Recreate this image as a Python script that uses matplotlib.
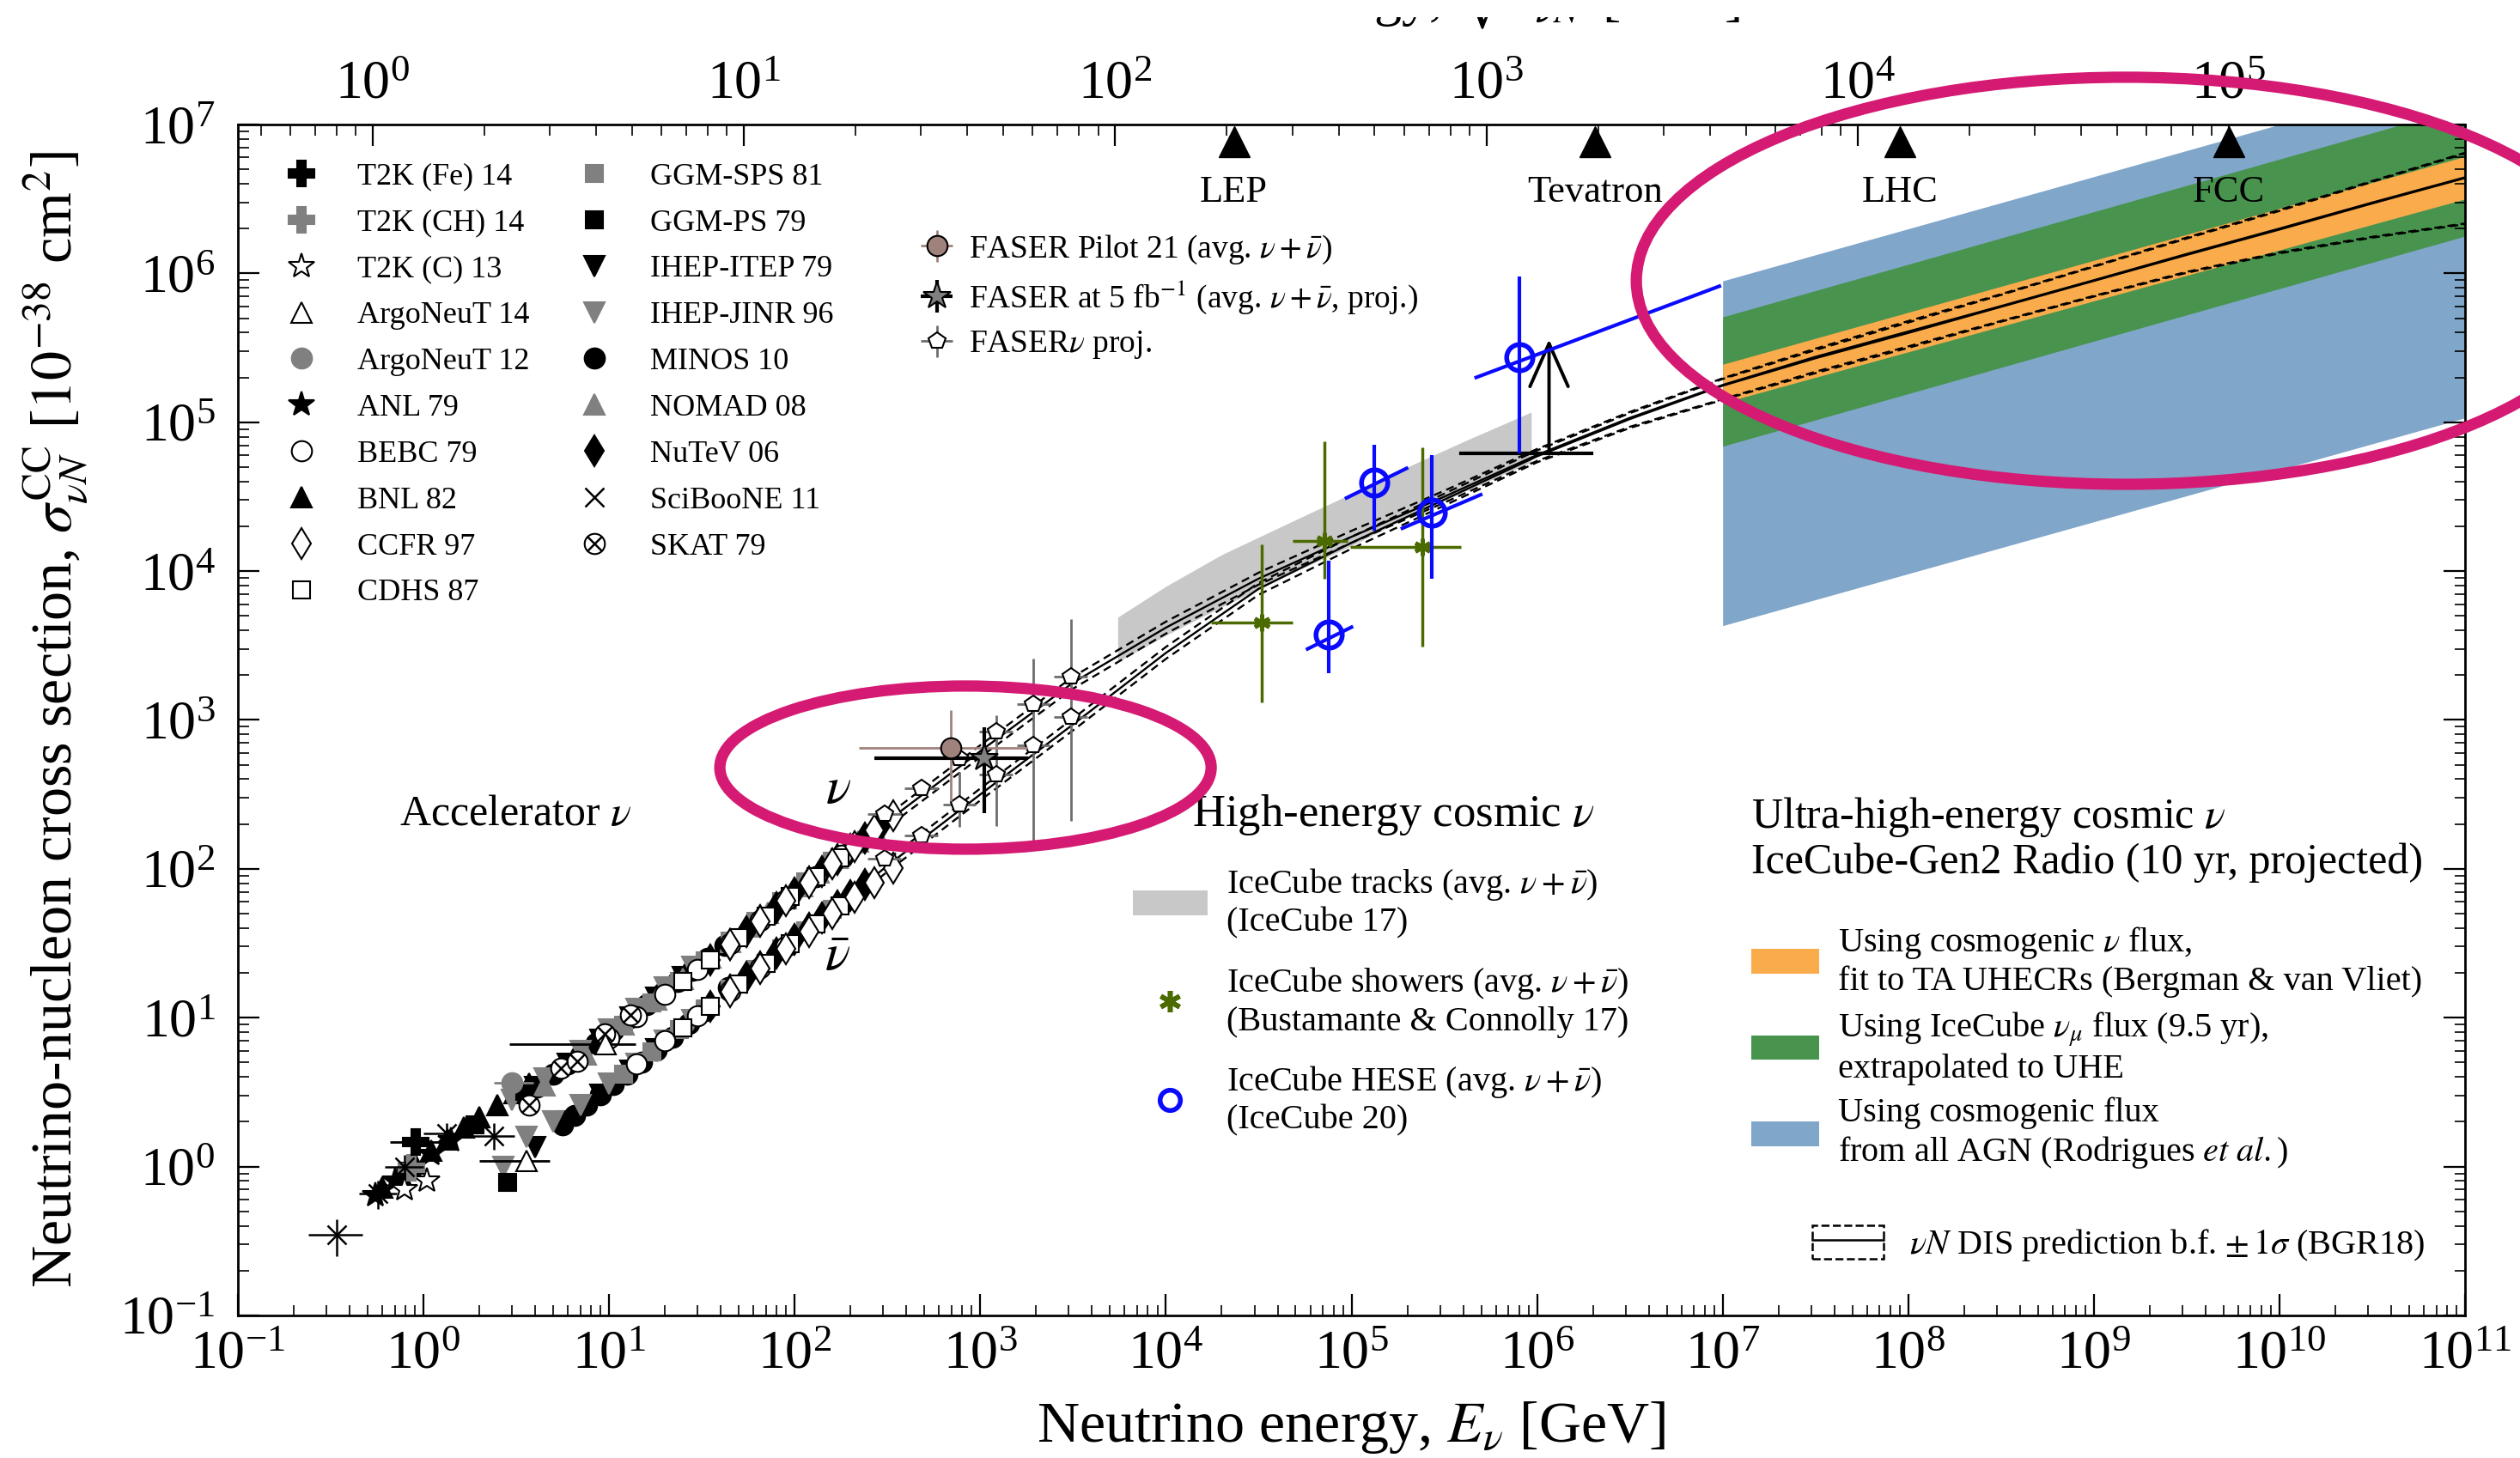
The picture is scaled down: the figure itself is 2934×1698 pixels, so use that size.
import numpy as np
import matplotlib
matplotlib.use("Agg")
import matplotlib.pyplot as plt
from matplotlib.lines import Line2D
from matplotlib.patches import Patch, Ellipse
from matplotlib.ticker import LogLocator, NullFormatter
from matplotlib.transforms import Bbox, TransformedBbox

plt.rcParams['font.family'] = ['Liberation Serif', 'DejaVu Serif']
plt.rcParams['mathtext.fontset'] = 'stix'

GRAY = '#808080'
M_N = 0.938  # nucleon mass [GeV]

# ---------------- accelerator data: E [GeV], sigma [1e-38 cm^2] ----------------
t2kfe_E, t2kfe_sig = [0.91], [1.47]
t2kfe_Elo, t2kfe_Ehi = [0.66], [1.25]
t2kch_E, t2kch_sig = [0.86], [0.98]
t2kc_E, t2kc_sig = [0.79, 1.04], [0.70, 0.80]
argo14_E, argo14_sig = [3.6, 9.6], [1.09, 6.6]
argo14_Elo, argo14_Ehi = [2.0, 2.9], [4.8, 13.9]
argo12_E, argo12_sig = [3.0], [3.67]
argo12_Elo, argo12_Ehi = [2.4], [3.9]
anl_E = [0.55, 0.70, 0.88, 1.10, 1.40]
anl_sig = [0.64, 0.80, 1.00, 1.22, 1.50]
bebc_E = [10, 14, 20, 30, 45, 65, 90, 130, 180, 14, 20, 30, 45, 65, 90]
bebc_sig = [7.3, 10.1, 14.3, 21, 31.3, 45, 62, 89, 123, 4.9, 7.0, 10.3, 15.2, 21.8, 30]
bnl_E = [0.60, 0.75, 0.90, 1.10, 1.35, 1.65, 2.0, 2.5, 3.1, 3.7]
bnl_sig = [0.72, 0.90, 1.05, 1.28, 1.52, 1.82, 2.15, 2.6, 3.1, 3.6]
ccfr_E = [45, 65, 90, 120, 160, 210, 270, 340, 45, 65, 90, 120, 160, 210, 270, 340]
ccfr_sig = [31, 44.5, 61, 81, 108, 141, 181, 228, 15, 21.5, 29, 38, 50, 64, 81, 101]
cdhs_E = [25, 35, 50, 70, 95, 130, 175, 25, 35, 50, 70, 95, 130, 175]
cdhs_sig = [17.5, 24.3, 34.5, 48, 65, 88.5, 119, 8.5, 11.9, 16.8, 23.3, 31.5, 42.5, 56]
ggmsps_E = [12, 17, 24, 33, 45, 62, 85, 115, 160, 210, 12, 17, 24, 33, 45, 62, 85, 115, 160]
ggmsps_sig = [8.9, 12.5, 17.5, 24, 32.5, 44.5, 60.5, 81.5, 113, 147,
              4.2, 5.9, 8.3, 11.4, 15.5, 21.2, 29, 38.6, 53.5]
ggmps_E, ggmps_sig = [1.9, 2.85, 3.5], [1.9, 0.78, 3.2]
ihepitep_E = [4, 6, 9, 13, 18, 25, 4, 6, 9, 13, 18]
ihepitep_sig = [3.4, 4.9, 7.1, 10, 13.7, 18.8, 1.35, 2.0, 3.05, 4.4, 6.1]
ihepjinr_E = [3, 4.5, 7, 10, 14, 20, 28, 2.7, 3.6, 5, 7, 10, 14, 20, 28]
ihepjinr_sig = [2.8, 3.9, 6.0, 8.3, 11.5, 16, 22, 1.0, 1.58, 2.0, 2.6, 3.6, 4.9, 7.0, 9.6]
minos_E = [4.1, 5.0, 6.0, 7.0, 8.5, 10.5, 13, 16, 19.5, 23.5, 28, 34, 42,
           5.6, 6.5, 7.6, 9, 10.5, 12.5, 15, 18, 22, 27, 33, 44]
minos_sig = [3.4, 4.15, 4.9, 5.6, 6.7, 8.2, 10, 12.2, 14.7, 17.5, 20.7, 25, 30.5,
             1.9, 2.2, 2.6, 3.05, 3.55, 4.2, 5.05, 6.05, 7.4, 9.1, 11.1, 16]
nomad_E = [4.5, 7.5, 12, 18, 25, 35, 45, 57, 72, 90, 110, 135, 170, 220, 270]
nomad_sig = [3.5, 5.7, 9.0, 13.2, 18.2, 25.3, 32.4, 40.8, 51, 63.5, 77, 94, 118, 152, 186]
nutev_E = [35, 45, 55, 65, 80, 100, 120, 140, 170, 200, 240, 290,
           35, 45, 55, 65, 80, 100, 120, 140, 170, 200, 240]
nutev_sig = [24.3, 31.1, 38, 45, 55, 68.5, 82, 95.5, 115.6, 135.5, 162, 195,
             11.9, 15.3, 18.7, 22, 27, 33.5, 40, 46.5, 56, 66, 79]
sciboone_E = [0.34, 0.57, 0.79, 1.33, 2.4]
sciboone_sig = [0.35, 0.66, 1.0, 1.67, 1.6]
sciboone_Elo = [0.24, 0.45, 0.62, 1.0, 1.8]
sciboone_Ehi = [0.47, 0.72, 1.0, 1.75, 3.1]
sciboone_slo = [0.25, 0.52, 0.82, 1.4, 1.3]
sciboone_shi = [0.44, 0.80, 1.2, 1.95, 1.95]
skat_E = [3.7, 5.5, 6.7, 9.5, 13]
skat_sig = [2.6, 4.6, 5.1, 7.8, 10.5]

# ---------------- FASER ----------------
fpilot_E, fpilot_sig = [690], [650]
fpilot_Elo, fpilot_Ehi, fpilot_slo, fpilot_shi = [222], [1800], [284], [1170]
f5_E, f5_sig = [1047], [550]
f5_Elo, f5_Ehi, f5_slo, f5_shi = [269], [1803], [237], [895]
fnu_E = [305, 482, 771, 1219, 1928, 3076]
fnu_Elo = [248, 392, 627, 991, 1568, 2501]
fnu_Ehi = [375, 593, 948, 1499, 2371, 3783]
fnu_nu = [234, 348, 550, 832, 1276, 1950]
fnu_nu_lo = [214, 316, 501, 759, 1148, 1738]
fnu_nu_hi = [257, 380, 603, 912, 1413, 2188]
fnu_nubar = [117, 167, 270, 430, 675, 1047]
fnu_nubar_lo = [105, 146, 191, 195, 155, 209]
fnu_nubar_hi = [132, 192, 447, 1072, 2570, 4786]

# ---------------- IceCube ----------------
tracks_E = [5.5e3, 1e4, 2.0e4, 5.5e4, 1e5, 2.0e5, 4.0e5, 9.3e5]
tracks_hi = [4.9e3, 7.9e3, 1.29e4, 2.34e4, 3.31e4, 5.0e4, 7.4e4, 1.17e5]
tracks_lo = [2.45e3, 3.7e3, 5.75e3, 1.05e4, 1.48e4, 2.29e4, 3.39e4, 5.4e4]

shw_E = [3.27e4, 7.16e4, 2.41e5]
shw_sig = [4.49e3, 1.6e4, 1.46e4]
shw_Elo = [1.75e4, 4.83e4, 9.8e4]
shw_Ehi = [4.84e4, 9.55e4, 3.89e5]
shw_slo = [1.32e3, 8.9e3, 3.13e3]
shw_shi = [1.52e4, 7.4e4, 6.8e4]
shw_lim_Elo, shw_lim_Ehi, shw_lim_sig = 3.88e5, 1.96e6, 6.2e4
shw_lim_E, shw_lim_top = 1.16e6, 3.6e5

hese_E = [7.52e4, 1.33e5, 2.72e5, 8.0e5]
hese_sig = [3.77e3, 3.95e4, 2.48e4, 2.74e5]
hese_slo = [2.06e3, 1.88e4, 8.9e3, 6.2e4]
hese_shi = [1.18e4, 7.1e4, 6.0e4, 9.5e5]
hese_bin_E0 = [5.8e4, 9.4e4, 1.88e5, 4.7e5]
hese_bin_E1 = [1.0e5, 1.98e5, 4.97e5, 9.6e6]
hese_bin_s0 = [3.0e3, 3.1e4, 1.94e4, 2.0e5]
hese_bin_s1 = [4.2e3, 4.9e4, 3.26e4, 8.2e5]

# ---------------- IceCube-Gen2 Radio projections ----------------
uhe_E = [1e7, 1e11]
orange_lo, orange_hi = [1.35e5, 3.16e6], [2.45e5, 6.1e6]
green_lo, green_hi = [6.9e4, 1.78e6], [5.1e5, 1.32e7]
blue_lo, blue_hi = [4.3e3, 1.07e5], [8.9e5, 2.24e7]

# ---------------- BGR18 DIS prediction ----------------
bgr_E = [80, 316, 1e3, 3.16e3, 1e4, 3.16e4, 1e5, 3.16e5, 1e6, 3.16e6, 1e7,
         3.16e7, 1e8, 3.16e8, 1e9, 3.16e9, 1e10, 3.16e10, 1e11]
bgr_nu = [53.7, 209, 617, 1.78e3, 4.17e3, 8.9e3, 1.70e4, 3.16e4, 6.03e4, 1.07e5, 1.78e5,
          2.75e5, 4.07e5, 6.03e5, 9.0e5, 1.35e6, 2.0e6, 2.99e6, 4.42e6]
bgr_nubar = [26.3, 105, 316, 933, 2.82e3, 7.6e3, 1.55e4, 3.02e4, 5.9e4, 1.05e5, 1.76e5,
             2.69e5, 3.98e5, 5.96e5, 8.9e5, 1.33e6, 1.97e6, 2.95e6, 4.37e6]
# 1-sigma spread in dex
bgr_dhi = [0.04] * 9 + [0.04, 0.045, 0.055, 0.07, 0.08, 0.095, 0.11, 0.125, 0.145, 0.165]
bgr_dlo = [0.04] * 9 + [0.06, 0.095, 0.10, 0.10, 0.10, 0.105, 0.12, 0.16, 0.23, 0.31]

# colliders, sqrt(s) in GeV
coll_names = ['LEP', 'Tevatron', 'LHC', 'FCC']
coll_rs = [209, 1960, 13000, 100000]


def bars(v, lo, hi):
    v, lo, hi = (np.asarray(a, float) for a in (v, lo, hi))
    return np.array([v - lo, hi - v])


fig = plt.figure(figsize=(29.34, 16.98), dpi=100)
ax = fig.add_axes([0.0944, 0.0978, 0.8838, 0.8168])
ax.set_xscale('log')
ax.set_yscale('log')
ax.set_xlim(1e-1, 1e11)
ax.set_ylim(1e-1, 1e7)

# bands
ax.fill_between(uhe_E, blue_lo, blue_hi, color='#80a6ca', lw=0, zorder=1)
ax.fill_between(uhe_E, green_lo, green_hi, color='#48944e', lw=0, zorder=1.1)
ax.fill_between(uhe_E, orange_lo, orange_hi, color='#faab4c', lw=0, zorder=1.2)
ax.fill_between(tracks_E, tracks_lo, tracks_hi, color='#c8c8c8', lw=0, zorder=1)

# DIS prediction curves
for cen in (bgr_nu, bgr_nubar):
    cen = np.asarray(cen)
    ax.plot(bgr_E, cen, 'k-', lw=1.7, zorder=3)
    ax.plot(bgr_E, cen * 10**np.asarray(bgr_dhi), 'k--', lw=1.7, dashes=(4, 2.5), zorder=3)
    ax.plot(bgr_E, cen / 10**np.asarray(bgr_dlo), 'k--', lw=1.7, dashes=(4, 2.5), zorder=3)

# accelerator experiments
def mk(marker, face, edge='k', ms=16):
    return dict(marker=marker, ms=ms, mfc=face, mec=edge, mew=1.5, ls='none')

styles = {
    'T2K (Fe) 14': mk('P', 'k', ms=21),
    'T2K (CH) 14': mk('P', GRAY, GRAY, ms=21),
    'T2K (C) 13': mk('*', 'w', ms=22),
    'ArgoNeuT 14': mk('^', 'w', ms=17),
    'ArgoNeuT 12': mk('o', GRAY, GRAY, ms=17),
    'ANL 79': mk('*', 'k', ms=22),
    'BEBC 79': mk('o', 'w', ms=17),
    'BNL 82': mk('^', 'k', ms=17),
    'CCFR 97': mk('d', 'w', ms=18),
    'CDHS 87': mk('s', 'w', ms=15),
    'GGM-SPS 81': mk('s', GRAY, GRAY, ms=15),
    'GGM-PS 79': mk('s', 'k', ms=15),
    'IHEP-ITEP 79': mk('v', 'k', ms=17),
    'IHEP-JINR 96': mk('v', GRAY, GRAY, ms=17),
    'MINOS 10': mk('o', 'k', ms=17),
    'NOMAD 08': mk('^', GRAY, GRAY, ms=17),
    'NuTeV 06': mk('d', 'k', ms=18),
    'SciBooNE 11': dict(marker='x', ms=16, mec='k', mew=1.8, ls='none'),
}
skat_o = mk('o', 'w', ms=17)
skat_x = dict(marker='x', ms=11, mec='k', mew=1.8, ls='none')

acc_sets = [
    ('BNL 82', bnl_E, bnl_sig), ('ANL 79', anl_E, anl_sig),
    ('T2K (C) 13', t2kc_E, t2kc_sig), ('T2K (CH) 14', t2kch_E, t2kch_sig),
    ('MINOS 10', minos_E, minos_sig), ('IHEP-ITEP 79', ihepitep_E, ihepitep_sig),
    ('IHEP-JINR 96', ihepjinr_E, ihepjinr_sig), ('GGM-PS 79', ggmps_E, ggmps_sig),
    ('NOMAD 08', nomad_E, nomad_sig), ('GGM-SPS 81', ggmsps_E, ggmsps_sig),
    ('NuTeV 06', nutev_E, nutev_sig), ('BEBC 79', bebc_E, bebc_sig),
    ('CDHS 87', cdhs_E, cdhs_sig), ('CCFR 97', ccfr_E, ccfr_sig),
]
for name, E, s in acc_sets:
    ax.plot(E, s, zorder=4, **styles[name])
ax.plot(skat_E, skat_sig, zorder=4, **skat_o)
ax.plot(skat_E, skat_sig, zorder=4, **skat_x)

ax.errorbar(t2kfe_E, t2kfe_sig, xerr=bars(t2kfe_E, t2kfe_Elo, t2kfe_Ehi), ecolor='k',
            elinewidth=2, zorder=4, **styles['T2K (Fe) 14'])
ax.errorbar(argo14_E, argo14_sig, xerr=bars(argo14_E, argo14_Elo, argo14_Ehi), ecolor='k',
            elinewidth=2, zorder=4, **styles['ArgoNeuT 14'])
ax.errorbar(argo12_E, argo12_sig, xerr=bars(argo12_E, argo12_Elo, argo12_Ehi), ecolor=GRAY,
            elinewidth=2, zorder=4, **styles['ArgoNeuT 12'])
ax.errorbar(sciboone_E, sciboone_sig, xerr=bars(sciboone_E, sciboone_Elo, sciboone_Ehi),
            yerr=bars(sciboone_sig, sciboone_slo, sciboone_shi), ecolor='k',
            elinewidth=1.8, zorder=4, **styles['SciBooNE 11'])

# FASER
eb_fnu = ax.errorbar(fnu_E, fnu_nu, xerr=bars(fnu_E, fnu_Elo, fnu_Ehi),
                     yerr=bars(fnu_nu, fnu_nu_lo, fnu_nu_hi), fmt='p', ms=15, mfc='w',
                     mec='k', mew=1.5, ecolor='#6e6e6e', elinewidth=2, zorder=6)
ax.errorbar(fnu_E, fnu_nubar, xerr=bars(fnu_E, fnu_Elo, fnu_Ehi),
            yerr=bars(fnu_nubar, fnu_nubar_lo, fnu_nubar_hi), fmt='p', ms=15, mfc='w',
            mec='k', mew=1.5, ecolor='#6e6e6e', elinewidth=2, zorder=6)
eb_pilot = ax.errorbar(fpilot_E, fpilot_sig, xerr=bars(fpilot_E, fpilot_Elo, fpilot_Ehi),
                       yerr=bars(fpilot_sig, fpilot_slo, fpilot_shi), fmt='o', ms=17,
                       mfc='#a0827d', mec='k', mew=1.5, ecolor='#a0827d', elinewidth=2, zorder=7)
eb_f5 = ax.errorbar(f5_E, f5_sig, xerr=bars(f5_E, f5_Elo, f5_Ehi),
                    yerr=bars(f5_sig, f5_slo, f5_shi), fmt='*', ms=24, mfc=GRAY, mec='k',
                    mew=1.5, ecolor='k', elinewidth=3, zorder=7)

# IceCube showers
SHW = '#4b6b00'
ax.errorbar(shw_E, shw_sig, xerr=bars(shw_E, shw_Elo, shw_Ehi),
            yerr=bars(shw_sig, shw_slo, shw_shi), fmt='none', ecolor=SHW, elinewidth=2.5, zorder=5)
ax.plot(shw_E, shw_sig, ls='none', marker=(6, 2, 0), ms=14, mec=SHW, mew=3.5, zorder=5)
ax.plot([shw_lim_Elo, shw_lim_Ehi], [shw_lim_sig] * 2, 'k-', lw=3, zorder=5)
ax.annotate('', xy=(shw_lim_E, shw_lim_top), xytext=(shw_lim_E, shw_lim_sig),
            arrowprops=dict(arrowstyle='->,head_length=0.9,head_width=0.4', lw=2.8,
                            color='k', shrinkA=0, shrinkB=0, mutation_scale=40), zorder=5)

# IceCube HESE
HESE = '#0a0aff'
ax.errorbar(hese_E, hese_sig, yerr=bars(hese_sig, hese_slo, hese_shi), fmt='none',
            ecolor=HESE, elinewidth=3, zorder=5)
for e0, e1, s0, s1 in zip(hese_bin_E0, hese_bin_E1, hese_bin_s0, hese_bin_s1):
    ax.plot([e0, e1], [s0, s1], color=HESE, lw=3, zorder=5)
ax.plot(hese_E, hese_sig, ls='none', marker='o', ms=22, mfc='none', mec=HESE, mew=4, zorder=5)

# collider energies on top
coll_E = np.asarray(coll_rs, float)**2 / (2 * M_N)
ax.plot(coll_E, [0.9856] * len(coll_E), ls='none', marker='^', ms=26, color='k',
        transform=ax.get_xaxis_transform(), clip_on=False, zorder=8)
for name, e in zip(coll_names, coll_E):
    ax.text(e, 0.9427, name, transform=ax.get_xaxis_transform(), ha='center', va='center',
            fontsize=32)

# axes, ticks
for sp in ax.spines.values():
    sp.set_linewidth(2)
for axis in (ax.xaxis, ax.yaxis):
    axis.set_major_locator(LogLocator(base=10, numticks=30))
    axis.set_minor_locator(LogLocator(base=10, subs=np.arange(2, 10), numticks=300))
    axis.set_minor_formatter(NullFormatter())
ax.tick_params(which='both', direction='in', top=False, right=True, labelsize=46)
ax.tick_params(which='major', length=18, width=1.6)
ax.tick_params(which='minor', length=9, width=1.2)
ax.tick_params(axis='x', pad=13)
ax.tick_params(axis='y', pad=19)

sec = ax.secondary_xaxis('top', functions=(lambda E: np.sqrt(2 * M_N * np.clip(E, 1e-30, None)),
                                           lambda rs: rs**2 / (2 * M_N)))
sec.tick_params(which='both', direction='in', labelsize=46, pad=12)
sec.tick_params(which='major', length=18, width=1.6)
sec.tick_params(which='minor', length=9, width=1.2)

# top axis title sits mostly above the page edge; only its lowest strokes show
top_title = fig.text(0.6905, 0.990, r'Center-of-mass energy, $\sqrt{s_{\nu N}}$ [GeV]',
                     ha='right', va='baseline', fontsize=46)
top_title.set_clip_box(TransformedBbox(Bbox([[0, 0], [1, 1 - 20 / 1698]]), fig.transFigure))
top_title.set_clip_on(True)

ax.set_xlabel(r'Neutrino energy, $E_\nu$ [GeV]', fontsize=49, labelpad=16)
ax.set_ylabel(r'Neutrino-nucleon cross section, $\sigma_{\nu N}^{\rm CC}$ [$10^{-38}$ cm$^2$]',
              fontsize=49)
ax.yaxis.set_label_coords(-0.066, 0.5)

# labels in the plot
ax.text(0.1248, 0.4206, r'Accelerator $\nu$', transform=ax.transAxes, ha='center',
        va='center', fontsize=36)
ax.text(0.2696, 0.4412, r'$\nu$', transform=ax.transAxes, ha='center', va='center', fontsize=44)
ax.text(0.2692, 0.3006, r'$\bar{\nu}$', transform=ax.transAxes, ha='center', va='center',
        fontsize=44)
ax.text(0.4285, 0.4203, r'High-energy cosmic $\nu$', transform=ax.transAxes, ha='left',
        va='center', fontsize=38)
ax.text(0.6795, 0.4001, 'Ultra-high-energy cosmic $\\nu$\nIceCube-Gen2 Radio (10 yr, projected)',
        transform=ax.transAxes, ha='left', va='center', fontsize=36, linespacing=1.15)

# legends
order = ['T2K (Fe) 14', 'T2K (CH) 14', 'T2K (C) 13', 'ArgoNeuT 14', 'ArgoNeuT 12', 'ANL 79',
         'BEBC 79', 'BNL 82', 'CCFR 97', 'CDHS 87', 'GGM-SPS 81', 'GGM-PS 79',
         'IHEP-ITEP 79', 'IHEP-JINR 96', 'MINOS 10', 'NOMAD 08', 'NuTeV 06', 'SciBooNE 11']
acc_handles = [Line2D([], [], **styles[n]) for n in order]
acc_handles.append((Line2D([], [], **skat_o), Line2D([], [], **skat_x)))
acc_labels = order + ['SKAT 79']
leg1 = ax.legend(acc_handles, acc_labels, ncol=2, loc='upper left', bbox_to_anchor=(0.0216, 0.968),
                 frameon=False, fontsize=26, handlelength=1.0, handletextpad=1.3,
                 columnspacing=1.6, labelspacing=0.57, borderpad=0, borderaxespad=0)
ax.add_artist(leg1)

leg2 = ax.legend([eb_pilot, eb_f5, eb_fnu],
                 [r'FASER Pilot 21 (avg. $\nu+\bar{\nu}$)',
                  r'FASER at 5 fb$^{-1}$ (avg. $\nu+\bar{\nu}$, proj.)',
                  r'FASER$\nu$ proj.'],
                 loc='upper left', bbox_to_anchor=(0.3051, 0.9088), frameon=False, fontsize=27,
                 handlelength=1.2, handletextpad=0.4, labelspacing=0.4, borderpad=0,
                 borderaxespad=0)
ax.add_artist(leg2)

he_handles = [Patch(fc='#c8c8c8', ec='none'),
              Line2D([], [], ls='none', marker=(6, 2, 0), ms=18, mec=SHW, mew=4),
              Line2D([], [], ls='none', marker='o', ms=17, mfc='none', mec=HESE, mew=4)]
he_labels = ['IceCube tracks (avg. $\\nu+\\bar{\\nu}$)\n(IceCube 17)',
             'IceCube showers (avg. $\\nu+\\bar{\\nu}$)\n(Bustamante & Connolly 17)',
             'IceCube HESE (avg. $\\nu+\\bar{\\nu}$)\n(IceCube 20)']
leg3 = ax.legend(he_handles, he_labels, loc='upper left', bbox_to_anchor=(0.4019, 0.377),
                 frameon=False, fontsize=29, handlelength=2.15, handleheight=0.75,
                 handletextpad=0.55, labelspacing=0.75, borderpad=0, borderaxespad=0)
ax.add_artist(leg3)

uhe_handles = [Patch(fc='#faab4c', ec='none'), Patch(fc='#48944e', ec='none'),
               Patch(fc='#80a6ca', ec='none')]
uhe_labels = ['Using cosmogenic $\\nu$ flux,\nfit to TA UHECRs (Bergman & van Vliet)',
              'Using IceCube $\\nu_\\mu$ flux (9.5 yr),\nextrapolated to UHE',
              'Using cosmogenic flux\nfrom all AGN (Rodrigues $\\mathit{et\\ al.}$)']
leg4 = ax.legend(uhe_handles, uhe_labels, loc='upper left', bbox_to_anchor=(0.6795, 0.328),
                 frameon=False, fontsize=29, handlelength=1.95, handleheight=0.7,
                 handletextpad=0.55, labelspacing=0.34, borderpad=0, borderaxespad=0)
ax.add_artist(leg4)

bgr_handle = (Patch(fill=False, ec='k', ls='--', lw=1.8), Line2D([], [], color='k', lw=1.8))
leg5 = ax.legend([bgr_handle], [r'$\nu N$ DIS prediction b.f. $\pm\,1\sigma$ (BGR18)'],
                 loc='upper left', bbox_to_anchor=(0.7069, 0.0755), frameon=False, fontsize=29,
                 handlelength=2.05, handleheight=1.1, handletextpad=0.75, borderpad=0,
                 borderaxespad=0)

# highlight rings
ax.add_patch(Ellipse((0.3267, 0.460), 0.2206, 0.137, transform=ax.transAxes, fill=False,
                     ec='#d51a73', lw=9.5, clip_on=False, zorder=20))
ax.add_patch(Ellipse((0.8477, 0.8688), 0.4396, 0.3418, transform=ax.transAxes, fill=False,
                     ec='#d51a73', lw=9.5, clip_on=False, zorder=20))

fig.savefig('out.png', dpi=100)
